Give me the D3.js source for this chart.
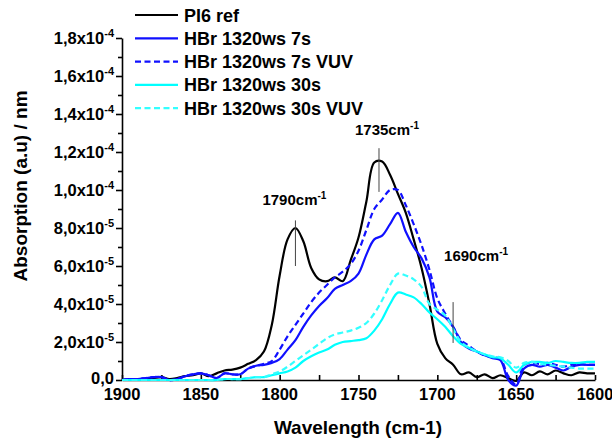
<!DOCTYPE html>
<html><head><meta charset="utf-8">
<script src="https://cdn.jsdelivr.net/npm/d3@7"></script>
<style>
html,body{margin:0;padding:0;background:#fff;}
svg text{font-family:"Liberation Sans",Arial,Helvetica,sans-serif;font-weight:bold;fill:#000;}
</style></head>
<body><svg id="chart" width="612" height="441"></svg>
<script>
// wavenumbers (cm-1)
const wavenumbers = d3.range(1900, 1599, -5);
// absorption values in units of 1e-5
const pi6Ref = [0.0,0.05,0.0,0.05,0.1,0.15,0.05,0.1,0.2,0.25,
  0.35,0.2,0.35,0.5,0.55,0.65,0.85,1.05,1.5,2.9,
  5.5,7.4,8.0,7.3,5.9,5.3,5.2,5.4,5.2,6.3,
  7.5,9.4,11.45,11.5,10.8,9.8,8.8,7.4,5.9,4.0,
  1.9,1.15,0.8,0.3,0.4,0.15,0.3,0.1,0.25,0.1,
  -0.05,0.4,0.25,0.45,0.3,0.5,0.35,0.25,0.4,0.35,0.35];
const hbr7s = [0.0,0.05,0.05,0.1,0.15,0.15,0.0,0.05,0.2,0.3,
  0.35,0.25,0.1,0.35,0.3,0.3,0.6,0.75,0.8,0.9,
  1.1,1.6,2.1,2.8,3.4,3.9,4.3,4.8,5.0,5.2,
  5.6,6.6,7.4,7.6,8.2,8.8,7.8,7.0,6.4,5.4,
  3.6,3.3,2.8,2.0,1.65,1.5,1.3,1.15,1.05,0.0,
  -0.3,0.6,0.8,0.7,0.8,0.65,0.5,0.7,0.8,0.8,0.8];
const hbr7sVUV = [0.0,0.05,0.05,0.1,0.15,0.15,0.0,0.05,0.2,0.3,
  0.35,0.25,0.1,0.35,0.3,0.3,0.6,0.75,0.85,1.0,
  1.6,2.3,2.9,3.5,4.1,4.6,5.0,5.4,5.7,6.1,
  6.8,7.9,9.0,9.5,10.0,10.0,9.2,8.2,7.1,5.8,
  4.3,3.5,2.8,2.1,1.8,1.5,1.3,1.2,1.1,0.2,
  -0.25,0.8,0.9,0.85,0.9,0.8,0.7,0.8,0.85,0.8,0.8];
const hbr30s = [0.0,0.0,0.0,0.0,0.0,0.0,0.0,0.0,0.0,0.0,
  0.0,0.0,0.0,0.05,0.05,0.05,0.1,0.15,0.15,0.25,
  0.35,0.45,0.65,1.0,1.25,1.45,1.6,1.85,2.0,2.05,
  2.1,2.2,2.6,3.2,4.0,4.6,4.5,4.35,4.0,3.55,
  3.2,2.8,2.3,1.9,1.7,1.5,1.35,1.2,1.15,0.8,
  0.4,0.8,0.95,0.95,0.9,1.0,0.95,0.9,0.9,0.95,0.95];
const hbr30sVUV = [0.0,0.0,0.0,0.0,0.0,0.0,0.0,0.0,0.0,0.0,
  0.0,0.0,0.0,0.05,0.05,0.05,0.1,0.15,0.15,0.3,
  0.45,0.7,1.0,1.3,1.6,1.9,2.2,2.4,2.5,2.6,
  2.75,3.0,3.5,4.2,5.0,5.6,5.5,5.3,4.9,4.0,
  3.7,3.4,2.7,2.0,1.7,1.5,1.35,1.25,1.2,1.0,
  0.65,0.9,0.95,0.85,0.8,0.75,0.7,0.65,0.6,0.6,0.6];

const seriesNames = ["PI6 ref","HBr 1320ws 7s","HBr 1320ws 7s VUV","HBr 1320ws 30s","HBr 1320ws 30s VUV"];
const seriesValues = [pi6Ref, hbr7s, hbr7sVUV, hbr30s, hbr30sVUV];
const seriesColors = ["#000000","#1010ff","#1010ff","#00ffff","#33ffff"];
const seriesDashed = [false,false,true,false,true];

const xTicks = d3.range(1900, 1599, -25);
const xTickLabels = ["1900","1850","1800","1750","1700","1650","1600"];
const yMajorTicks = [0,2e-5,4e-5,6e-5,8e-5,1e-4,1.2e-4,1.4e-4,1.6e-4,1.8e-4];
const yTickMantissa = ["0,0","2,0x10","4,0x10","6,0x10","8,0x10","1,0x10","1,2x10","1,4x10","1,6x10","1,8x10"];
const yTickExponent = ["","-5","-5","-5","-5","-4","-4","-4","-4","-4"];
const yMinorTicks = d3.range(1e-5, 1.8e-4, 2e-5);

const annotationLabels = ["1790cm","1735cm","1690cm"];
const annotationWn = [1790, 1737, 1690];
const annotationTop = [8.4e-5, 12.2e-5, 4.1e-5];
const annotationBottom = [6.0e-5, 9.9e-5, 1.95e-5];
// label offsets (px) relative to the top of each marker line
const annotationDx = [-33, -24, -9];
const annotationDy = [-15, -13, -41];

const svg = d3.select("#chart");
const x = d3.scaleLinear().domain([1900,1600]).range([122,595]);
const y = d3.scaleLinear().domain([0,1.8e-4]).range([380,38]);

// axes
svg.append("g").attr("transform","translate(0,380)")
  .call(d3.axisBottom(x).tickValues(xTicks).tickSize(-5).tickSizeOuter(0).tickFormat(""));
svg.append("g").attr("transform","translate(122,0)")
  .call(d3.axisLeft(y).tickValues(yMajorTicks).tickSize(6).tickSizeOuter(0).tickFormat(""));
const gym = svg.append("g").attr("transform","translate(122,0)")
  .call(d3.axisLeft(y).tickValues(yMinorTicks).tickSize(4).tickSizeOuter(0).tickFormat(""));
gym.select(".domain").remove();
svg.selectAll(".domain, .tick line").attr("stroke","#000").attr("stroke-width",1.6);

// x tick labels
svg.append("g").selectAll("text").data(xTickLabels).join("text")
  .attr("x", d => x(+d)).attr("y", 400).attr("text-anchor","middle")
  .attr("font-size", 16.5).text(d => d);

// y tick labels
const yl = svg.append("g").selectAll("text").data(yMajorTicks).join("text")
  .attr("x", 114).attr("y", d => y(d) + (d === 0 ? 3.5 : 6)).attr("text-anchor","end").attr("font-size", 16.5);
yl.each(function(d,i){
  const t = d3.select(this);
  t.append("tspan").text(yTickMantissa[i]);
  if (yTickExponent[i]) t.append("tspan").attr("dy",-7).attr("font-size",11).text(yTickExponent[i]);
});

// lines
const line = d3.line().x((d,i) => x(wavenumbers[i])).y(d => y(d*1e-5)).curve(d3.curveCatmullRom.alpha(0.5));
svg.append("g").selectAll("path").data(seriesValues).join("path")
  .attr("d", d => line(d)).attr("fill","none")
  .attr("stroke", (d,i) => seriesColors[i]).attr("stroke-width", 2.2)
  .attr("stroke-dasharray", (d,i) => seriesDashed[i] ? "6,3.5" : null)
  .attr("stroke-linejoin","round");

// annotations
const ann = svg.append("g");
annotationLabels.forEach((lab,i) => {
  const ax = x(annotationWn[i]);
  ann.append("line").attr("x1", ax).attr("x2", ax)
    .attr("y1", y(annotationTop[i])).attr("y2", y(annotationBottom[i]))
    .attr("stroke","#444").attr("stroke-width",1);
  const t = ann.append("text").attr("x", ax + annotationDx[i]).attr("y", y(annotationTop[i]) + annotationDy[i])
    .attr("font-size", 15);
  t.append("tspan").text(lab);
  t.append("tspan").attr("dy",-6).attr("font-size",10).text("-1");
});

// legend
const lg = svg.append("g");
seriesNames.forEach((name,i) => {
  const cy = 15 + i*23.3;
  lg.append("line").attr("x1",135).attr("x2",178).attr("y1",cy).attr("y2",cy)
    .attr("stroke", seriesColors[i]).attr("stroke-width",2.2)
    .attr("stroke-dasharray", seriesDashed[i] ? "6,3.5" : null);
  lg.append("text").attr("x",184).attr("y",cy+6.5).attr("font-size",18).text(name);
});

// axis titles
svg.append("text").attr("x",358).attr("y",434).attr("text-anchor","middle")
  .attr("font-size",19).text("Wavelength (cm-1)");
svg.append("text").attr("transform","translate(27,186) rotate(-90)").attr("text-anchor","middle")
  .attr("font-size",19).text("Absorption (a.u) / nm");
</script></body></html>
